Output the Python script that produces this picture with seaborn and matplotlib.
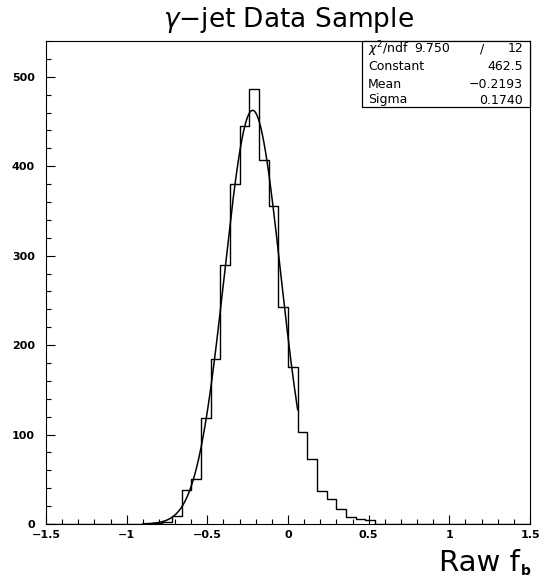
import numpy as np
import pandas as pd
import matplotlib
matplotlib.use("Agg")
import matplotlib.pyplot as plt
from matplotlib.patches import Rectangle
from matplotlib.ticker import MultipleLocator, FuncFormatter
import seaborn as sns

# Raw f_b distribution of the gamma-jet sample: 50 bins on [-1.5, 1.5]
x_lo, x_hi, n_bins = -1.5, 1.5, 50
counts = ([0] * 11
          + [1, 2, 9, 38, 50, 118, 185, 290, 380, 445, 486, 407,
             356, 243, 175, 103, 73, 37, 28, 17, 8, 6, 4]
          + [0] * 16)

# Gaussian fit result
fit_constant = 462.5
fit_mean = -0.2193
fit_sigma = 0.1740
fit_chi2 = 9.750
fit_ndf = 12
fit_range = (-0.90, 0.06)

x_ticks_major = 0.5
y_ticks_major = 100

sns.set_style("ticks")
plt.rcParams["font.family"] = ["DejaVu Sans"]
plt.rcParams["mathtext.fontset"] = "dejavusans"
plt.rcParams["text.color"] = "black"
plt.rcParams["xtick.color"] = "black"
plt.rcParams["ytick.color"] = "black"

edges = np.linspace(x_lo, x_hi, n_bins + 1)
centers = 0.5 * (edges[:-1] + edges[1:])
hist_df = pd.DataFrame({"f_b": centers, "entries": counts})

W, H = 542, 580
fig = plt.figure(figsize=(W / 100, H / 100), dpi=100)
ax = fig.add_axes([46 / W, 1 - 524 / H, (530 - 46) / W, (524 - 41) / H])

sns.histplot(data=hist_df, x="f_b", weights="entries", bins=n_bins,
             binrange=(x_lo, x_hi), element="step", fill=False,
             color="black", linewidth=1.0, ax=ax)

xs = np.linspace(fit_range[0], fit_range[1], 400)
fit_df = pd.DataFrame({
    "f_b": xs,
    "gauss": fit_constant * np.exp(-0.5 * ((xs - fit_mean) / fit_sigma) ** 2),
})
sns.lineplot(data=fit_df, x="f_b", y="gauss", color="black", linewidth=1.1,
             estimator=None, sort=False, ax=ax)

ax.set_xlim(x_lo, x_hi)
ax.set_ylim(0, 540)
ax.set_xlabel("")
ax.set_ylabel("")

ax.xaxis.set_major_locator(MultipleLocator(x_ticks_major))
ax.xaxis.set_minor_locator(MultipleLocator(0.1))
ax.yaxis.set_major_locator(MultipleLocator(y_ticks_major))
ax.yaxis.set_minor_locator(MultipleLocator(20))


def fmt(v, _):
    v = round(v, 3)
    if v == 0:
        return "0"
    return f"{v:g}".replace("-", "\u2212")


ax.xaxis.set_major_formatter(FuncFormatter(fmt))
ax.yaxis.set_major_formatter(FuncFormatter(fmt))
ax.tick_params(which="both", direction="in", top=False, right=False,
               width=0.8, colors="black")
ax.tick_params(which="major", length=6.5)
ax.tick_params(which="minor", length=3.6)
ax.tick_params(axis="x", which="major", pad=4)
ax.tick_params(axis="y", which="major", pad=8)
for lab in ax.get_xticklabels() + ax.get_yticklabels():
    lab.set_fontsize(8)
    lab.set_fontweight("bold")
for sp in ax.spines.values():
    sp.set_visible(True)
    sp.set_linewidth(0.8)
    sp.set_color("black")

# Fit statistics box
box_l, box_b = (362 - 46) / 484, (524 - 107) / 483
ax.add_patch(Rectangle((box_l, box_b), 1 - box_l, 1 - box_b,
                       transform=ax.transAxes, facecolor="white",
                       edgecolor="black", linewidth=0.9, zorder=5,
                       clip_on=False))
rows_y = [(524 - y) / 483 for y in (49, 67, 84, 100)]
tx_l = (368 - 46) / 484
tx_r = (523 - 46) / 484
st = dict(transform=ax.transAxes, fontsize=9, va="center", zorder=6)
ax.text(tx_l, rows_y[0], r"$\chi^2$/ndf", ha="left", **st)
ax.text((414 - 46) / 484, rows_y[0], f"{fit_chi2:.3f}", ha="left", **st)
ax.text((482 - 46) / 484, rows_y[0], "/", ha="center", **st)
ax.text(tx_r, rows_y[0], f"{fit_ndf}", ha="right", **st)
ax.text(tx_l, rows_y[1], "Constant", ha="left", **st)
ax.text(tx_r, rows_y[1], f"{fit_constant:.1f}", ha="right", **st)
ax.text(tx_l, rows_y[2], "Mean", ha="left", **st)
ax.text(tx_r, rows_y[2], f"{fit_mean:.4f}".replace("-", "\u2212"),
        ha="right", **st)
ax.text(tx_l, rows_y[3], "Sigma", ha="left", **st)
ax.text(tx_r, rows_y[3], f"{fit_sigma:.4f}", ha="right", **st)

fig.text(288 / W, 1 - 20 / H, r"$\gamma$" + "\u2212jet Data Sample",
         ha="center", va="center", fontsize=19)
fig.text(520 / W, 1 - 563 / H, "Raw f", ha="right", va="center", fontsize=21)
fig.text(521 / W, 1 - 571 / H, "b", ha="left", va="center", fontsize=10,
         fontweight="bold")

fig.savefig("out.png", dpi=100, facecolor="white")
